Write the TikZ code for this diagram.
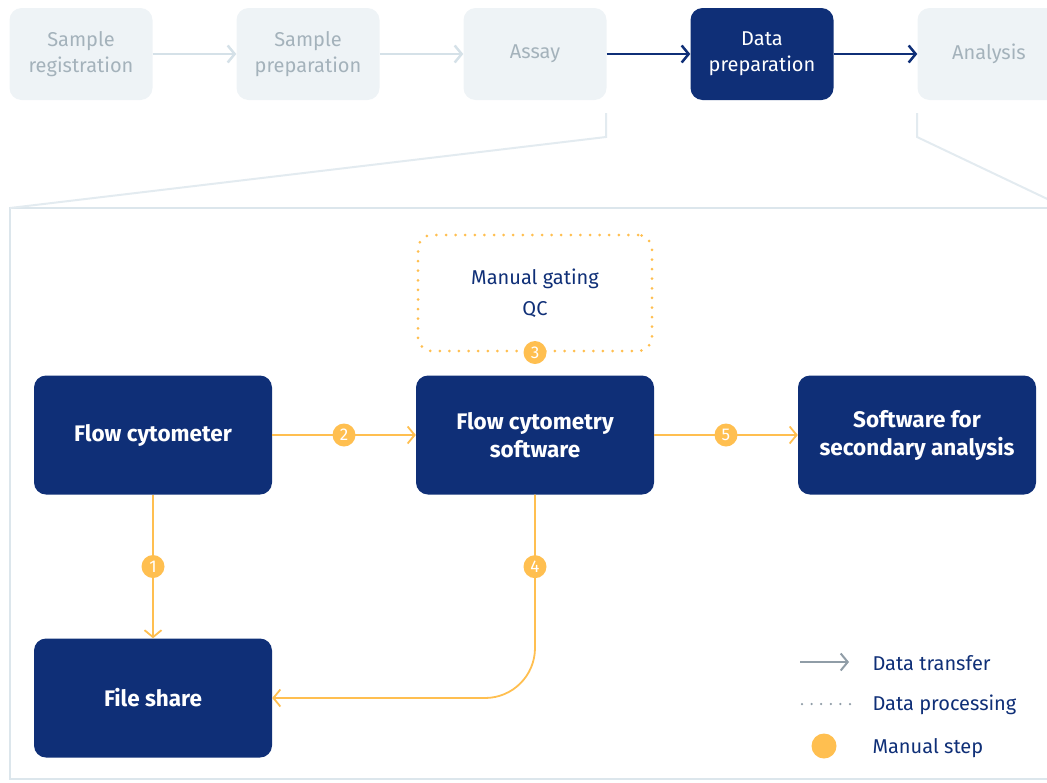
\documentclass[tikz,border=0pt]{standalone}
\usepackage{fontspec}
\setmainfont{Fira Sans}
\usetikzlibrary{positioning, arrows.meta}
\definecolor{navy}{HTML}{0F2F77}
\definecolor{amber}{HTML}{FFBF50}
\definecolor{paleblue}{HTML}{EEF3F6}
\definecolor{palegray}{HTML}{A4B2BB}
\definecolor{paleline}{HTML}{D5E1E8}
\definecolor{framecol}{HTML}{DCE6EC}
\definecolor{legendgray}{HTML}{909DA7}
\tikzset{
    >={Straight Barb[length=7pt, width=17pt]}, % Open chevron heads
    node distance=227pt, % Spacing of the top row
    every node/.style={font=\fontsize{20}{26}\selectfont},
}

\begin{document}
\begin{tikzpicture}[
    x=1pt, y=-1pt,
    on grid,
    % Top row of process stages
    stage/.style={rectangle, rounded corners=12pt, fill=paleblue, text=palegray,
        minimum width=143pt, minimum height=92pt, align=center},
    current/.style={stage, fill=navy, text=white},
    % Big boxes in the zoomed view
    unit/.style={rectangle, rounded corners=12pt, fill=navy, text=white,
        minimum width=238pt, minimum height=119pt, align=center,
        font=\fontsize{22.5}{28}\selectfont\bfseries},
    % Orange numbered circles
    badge/.style={circle, fill=amber, text=white, inner sep=0pt, minimum size=23pt,
        font=\fontsize{17}{17}\selectfont},
    flow/.style={->, draw=amber, line width=1.8pt},
    faded/.style={->, draw=paleline, line width=2.5pt},
    active/.style={->, draw=navy, line width=2.5pt},
]
    \useasboundingbox (0,0) rectangle (1047,782);

    % --- Top row ---
    \node[stage] (reg) at (81,54) {Sample\\registration};
    \node[stage] (prep) [right=of reg] {Sample\\preparation};
    \node[stage] (assay) [right=of prep] {Assay};
    \node[current] (dataprep) [right=of assay] {Data\\preparation};
    \node[stage] (analysis) [right=of dataprep] {Analysis};

    \draw[faded] (reg) -- (prep);
    \draw[faded] (prep) -- (assay);
    \draw[active] (assay) -- (dataprep);
    \draw[active] (dataprep) -- (analysis);

    % --- Zoom frame ---
    \coordinate (zl) at (606,113);
    \coordinate (zr) at (917,113);
    \draw[framecol, line width=2pt] (10,208) rectangle (1070,779);
    \draw[framecol!80, line width=2pt] (zl) -- (606,137) -- (10,208);
    \draw[framecol!80, line width=2pt] (zr) -- (917,137) -- (1060,205);

    % --- Nodes ---
    \node[unit] (cyto) at (153,435) {Flow cytometer};
    \node[unit] (fcs) [right=382pt of cyto] {Flow cytometry\\software};
    \node[unit] (second) [right=382pt of fcs] {Software for\\secondary analysis};
    \node[unit] (fileshare) [below=263pt of cyto] {File share};
    \node[rectangle, rounded corners=14pt, draw=amber, line width=3pt,
        dash pattern=on 0pt off 9.6pt, line cap=round,
        minimum width=234pt, minimum height=116pt, align=center, text=navy,
        font=\fontsize{20}{31}\selectfont] (gating) [above=142pt of fcs]
        {Manual gating\\QC};
    \node[badge] (b3) at (gating.south) {3};

    % --- Transfers ---
    \draw[flow] (cyto) -- node[badge] (b2) {2} (fcs);
    \draw[flow] (fcs) -- node[badge] (b5) {5} (second);
    \draw[flow] (cyto) -- node[badge] (b1) {1} (fileshare);
    \draw[flow, rounded corners=50pt] (fcs.south) |- node[badge, pos=0.177] (b4) {4} (fileshare.east);

    % --- Legend ---
    \coordinate (la) at (800,662);
    \coordinate (lb) at (849,662);
    \coordinate (lc) at (802,704);
    \coordinate (ld) at (850,704);
    \draw[->, legendgray, line width=2pt] (la) -- (lb);
    \draw[legendgray, line width=2.5pt, dash pattern=on 0pt off 9.6pt, line cap=round] (lc) -- (ld);
    \node[circle, fill=amber, minimum size=25pt, inner sep=0pt] (ldot) at (824,746) {};
    \node[anchor=west, text=navy] (ltransfer) at (869,663) {Data transfer};
    \node[anchor=west, text=navy] (lprocess) at (869,705) {Data processing};
    \node[anchor=west, text=navy] (lmanual) at (869,748) {Manual step};
\end{tikzpicture}
\end{document}
